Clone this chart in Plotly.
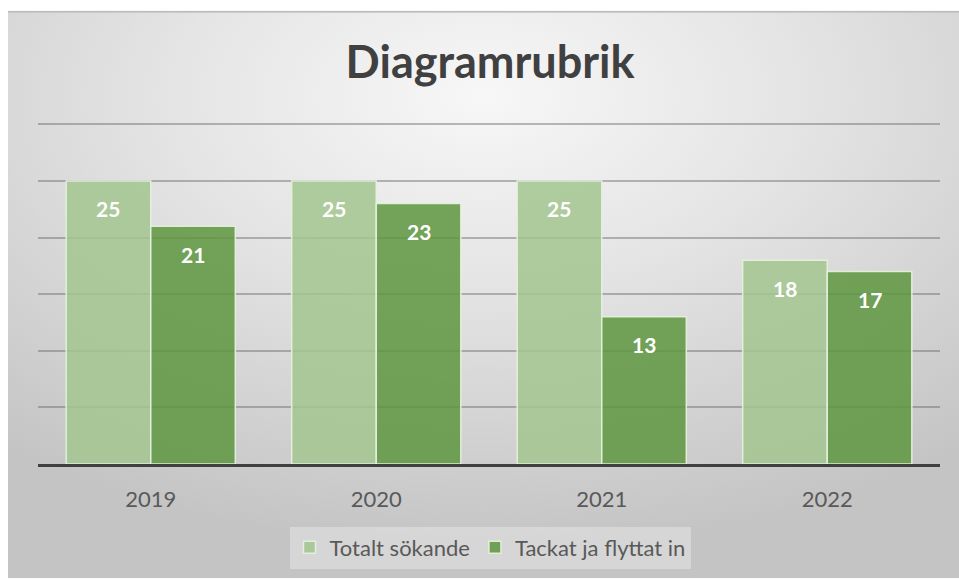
import base64
import plotly.graph_objects as go

years = ["2019", "2020", "2021", "2022"]
totalt = [25, 25, 25, 18]
tackat = [21, 23, 13, 17]
series_names = ["Totalt sökande", "Tackat ja flyttat in"]
title_text = "Diagramrubrik"

W, H = 959, 581
L, R, T, B = 38, 19, 122, 115
pw, ph = W - L - R, H - T - B

svg = f'''<svg xmlns="http://www.w3.org/2000/svg" width="951" height="571" viewBox="0 0 951 571" preserveAspectRatio="none">
<defs><radialGradient id="g" cx="0.5" cy="0.15" r="0.8" fx="0.5" fy="0.15">
<stop offset="0" stop-color="#f7f7f7"/><stop offset="0.4" stop-color="#e5e5e5"/><stop offset="1" stop-color="#c4c4c4"/>
</radialGradient></defs>
<rect x="0" y="0" width="951" height="571" fill="url(#g)"/>
<rect x="0" y="0" width="951" height="2" fill="#bdbdbd"/>
</svg>'''
src = "data:image/svg+xml;base64," + base64.b64encode(svg.encode()).decode()

light = "rgba(162,198,142,0.85)"
dark = "rgba(93,150,62,0.85)"
edge = "rgba(228,240,220,0.95)"

fig = go.Figure()
fig.add_trace(go.Bar(x=years, y=totalt, name=series_names[0],
                     marker=dict(color=light, line=dict(color=edge, width=1.5))))
fig.add_trace(go.Bar(x=years, y=tackat, name=series_names[1],
                     marker=dict(color=dark, line=dict(color=edge, width=1.5))))

catw = pw / len(years)
barw = catw * 0.75 / 2
for vals, sh in ((totalt, -barw / 2), (tackat, barw / 2)):
    for i, v in enumerate(vals):
        fig.add_annotation(x=i, y=v, text=f"<b>{v}</b>", showarrow=False,
                           xshift=sh, yshift=-28, yanchor="middle",
                           font=dict(family="Lato", size=21, color="white"))

fig.add_layout_image(dict(source=src, xref="paper", yref="paper",
                          x=(8 - L) / pw, y=(H - B - 10) / ph,
                          sizex=(W - 8) / pw, sizey=(H - 10) / ph,
                          sizing="stretch", xanchor="left", yanchor="top",
                          layer="below"))

fig.update_layout(
    width=W, height=H,
    margin=dict(l=L, r=R, t=T, b=B, pad=0),
    paper_bgcolor="white",
    plot_bgcolor="rgba(0,0,0,0)",
    barmode="group", bargap=0.25, bargroupgap=0,
    font=dict(family="Lato", color="#595959"),
    title=dict(text=f"<b>{title_text}</b>", xref="container", yref="container",
               x=0.511, y=1 - 62 / H, xanchor="center", yanchor="middle",
               font=dict(family="Lato", size=45, color="#404040")),
    xaxis=dict(type="category", range=[-0.5, len(years) - 0.5],
               showline=True, linecolor="#404040", linewidth=3,
               tickfont=dict(size=22, color="#595959"), ticks="outside",
               ticklen=14, tickcolor="rgba(0,0,0,0)", showgrid=False),
    yaxis=dict(range=[0, 30.2], tickvals=[0, 5, 10, 15, 20, 25, 30],
               showticklabels=False, zeroline=False,
               showgrid=True, gridcolor="rgba(105,105,105,0.45)", gridwidth=2),
    legend=dict(orientation="h", x=(490 - L) / pw, xanchor="center",
                y=(H - B - 550) / ph, yanchor="middle",
                bgcolor="rgba(255,255,255,0.3)",
                font=dict(size=22, color="#595959")),
    showlegend=True,
)

fig.write_html("out.html")
